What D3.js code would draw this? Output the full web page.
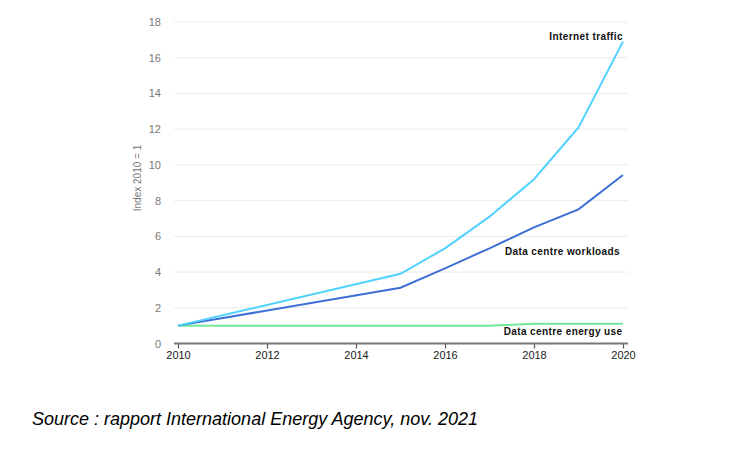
<!DOCTYPE html>
<html><head><meta charset="utf-8">
<script src="https://cdn.jsdelivr.net/npm/d3@7"></script>
<style>body{margin:0;background:#fff;} svg{display:block;}</style>
</head><body>
<svg id="c" width="743" height="453"></svg>
<script>
const years = [2010, 2015, 2016, 2017, 2018, 2019, 2020];
const internetTraffic = [1, 3.9, 5.33, 7.1, 9.2, 12.1, 16.9];
const dcWorkloads = [1, 3.12, 4.21, 5.33, 6.5, 7.51, 9.43];
const dcEnergy = [1, 1, 1, 1, 1.1, 1.1, 1.1];
const yTicks = [0, 2, 4, 6, 8, 10, 12, 14, 16, 18];
const xTicks = [2010, 2012, 2014, 2016, 2018, 2020];
const seriesNames = ["Internet traffic", "Data centre workloads", "Data centre energy use"];
const yTitle = "Index 2010 = 1";
const sourceText = "Source : rapport International Energy Agency, nov. 2021";

const svg = d3.select("#c");
const x = d3.scaleLinear().domain([2010, 2020]).range([178, 623]);
const y = d3.scaleLinear().domain([0, 18]).range([343.5, 22]);
const font = "'Liberation Sans', Arial, sans-serif";

// grid
svg.append("g").selectAll("line").data(yTicks.filter(d => d > 0)).join("line")
  .attr("x1", 174).attr("x2", 628)
  .attr("y1", d => y(d)).attr("y2", d => y(d))
  .attr("stroke", "#ebebeb").attr("stroke-width", 1);

// y axis labels
const ya = svg.append("g").attr("transform", "translate(161,0)")
  .call(d3.axisLeft(y).tickValues(yTicks).tickSize(0).tickPadding(0));
ya.select(".domain").remove();
ya.selectAll("text").attr("font-family", font).attr("font-size", 11).attr("fill", "#777");

// x axis
const xa = svg.append("g").attr("transform", `translate(0,${y(0)})`)
  .call(d3.axisBottom(x).tickValues(xTicks).tickFormat(d3.format("d")).tickSizeOuter(0).tickSizeInner(5).tickPadding(3));
xa.select(".domain").remove();
xa.append("line").attr("x1", 174).attr("x2", 628).attr("stroke", "#777").attr("stroke-width", 2);
xa.selectAll(".tick line").attr("stroke", "#555").attr("stroke-width", 1.2);
xa.selectAll("text").attr("font-family", font).attr("font-size", 11).attr("fill", "#1a1a1a");

// y title
svg.append("text").attr("transform", `translate(141,178) rotate(-90)`)
  .attr("text-anchor", "middle").attr("font-family", font).attr("font-size", 10).attr("fill", "#777")
  .text(yTitle);

const line = d3.line().x((d, i) => x(years[i])).y(d => y(d));
const series = [
  {v: dcEnergy, c: "#72e89c"},
  {v: dcWorkloads, c: "#3d6fd6"},
  {v: internetTraffic, c: "#4fd2ff"}
];
svg.append("g").selectAll("path").data(series).join("path")
  .attr("d", d => line(d.v)).attr("fill", "none")
  .attr("stroke", d => d.c).attr("stroke-width", 2);

// labels
const labels = [
  {t: seriesNames[0], x: 623, y: 40},
  {t: seriesNames[1], x: 620, y: 255},
  {t: seriesNames[2], x: 622.5, y: 335}
];
svg.append("g").selectAll("text").data(labels).join("text")
  .attr("x", d => d.x).attr("y", d => d.y).attr("text-anchor", "end")
  .attr("font-family", font).attr("font-size", 10).attr("font-weight", "bold").attr("fill", "#111")
  .attr("letter-spacing", 0.4)
  .text(d => d.t);

svg.append("text").attr("x", 32).attr("y", 425)
  .attr("font-family", font).attr("font-size", 18).attr("font-style", "italic").attr("fill", "#000")
  .text(sourceText);
</script>
</body></html>
